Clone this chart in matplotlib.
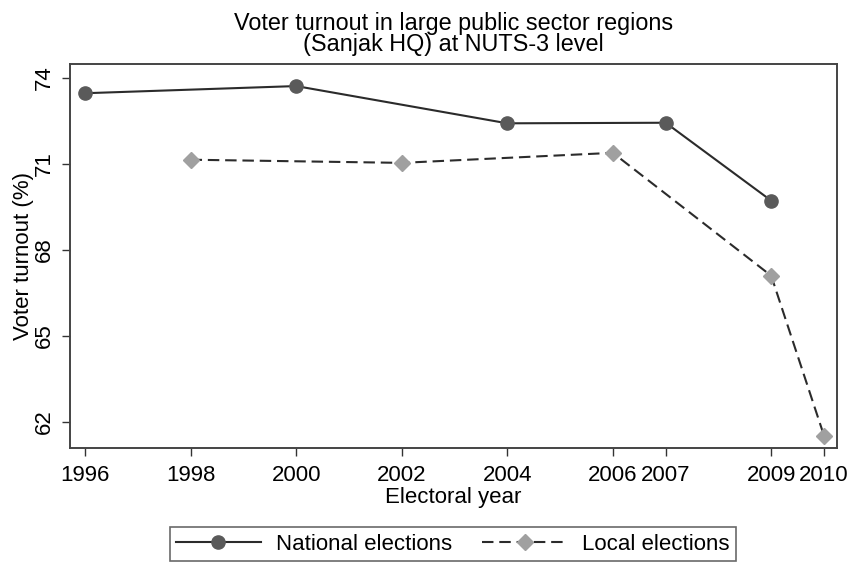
import matplotlib
matplotlib.use("Agg")
import matplotlib.pyplot as plt

plt.rcParams['font.family'] = ['Liberation Sans', 'DejaVu Sans']

# Electoral years and turnout (%)
national_years = [1996, 2000, 2004, 2007, 2009]
national_turnout = [73.47, 73.72, 72.42, 72.44, 69.72]
local_years = [1998, 2002, 2006, 2009, 2010]
local_turnout = [71.15, 71.04, 71.39, 67.10, 61.52]

x_ticks = [1996, 1998, 2000, 2002, 2004, 2006, 2007, 2009, 2010]
y_ticks = [62, 65, 68, 71, 74]

FS = 16

fig = plt.figure(figsize=(8.53, 5.62), dpi=100)
ax = fig.add_axes([70 / 853, 1 - 448 / 562, (837 - 70) / 853, (448 - 64) / 562])

ax.plot(national_years, national_turnout, color='#2b2b2b', lw=1.5, ls='-',
        marker='o', ms=9.5, mfc='#5a5a5a', mec='#5a5a5a', label='National elections')
ax.plot(local_years, local_turnout, color='#2b2b2b', lw=1.5, ls=(0, (5.5, 2.8)),
        marker='D', ms=8.5, mfc='#a0a0a0', mec='#a0a0a0', label='Local elections')

ax.set_xlim(1995.716, 2010.246)
ax.set_ylim(61.09, 74.49)
ax.set_xticks(x_ticks)
ax.set_xticklabels([str(t) for t in x_ticks], fontsize=FS)
ax.set_yticks(y_ticks)
ax.set_yticklabels([str(t) for t in y_ticks], fontsize=FS, rotation=90, va='center')
ax.tick_params(direction='out', length=6, width=1, color='#333333', pad=5)
ax.tick_params(axis='x', pad=6)

for s in ax.spines.values():
    s.set_color('#444444')
    s.set_linewidth(1.4)

ax.set_xlabel('Electoral year', fontsize=FS, labelpad=1)
ax.set_ylabel('Voter turnout (%)', fontsize=FS, labelpad=0)
ax.set_title('Voter turnout in large public sector regions\n(Sanjak HQ) at NUTS-3 level',
             fontsize=16.8, linespacing=0.9, pad=9)

leg = fig.legend(loc='center', bbox_to_anchor=(453 / 853, 1 - 544 / 562), ncol=2,
                 fontsize=FS, frameon=True, fancybox=False, handlelength=3.8,
                 columnspacing=1.35, borderpad=0.3, borderaxespad=0,
                 handletextpad=0.7)
leg.get_frame().set_edgecolor('#444444')
leg.get_frame().set_linewidth(1.2)

fig.savefig('out.png', dpi=100)
